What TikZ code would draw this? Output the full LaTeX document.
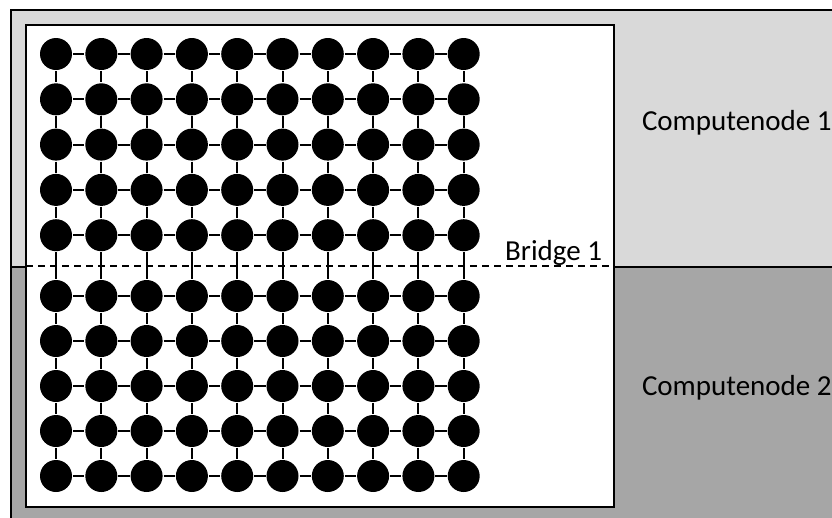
\documentclass[tikz,border=0pt]{standalone}
\usepackage{fontspec}
\setmainfont{Carlito}
\usepackage{tikz}
\usetikzlibrary{calc}

\begin{document}
\begin{tikzpicture}[x=1pt,y=-1pt,inner sep=0pt,line width=2pt,
	vertex/.style={circle,fill=black,minimum size=32},
	label/.style={font=\fontsize{29}{35}\selectfont}]
	
	\useasboundingbox (0,0) rectangle (832,517);
	
	% the two compute nodes
	\fill[gray!30] (11,10) rectangle (840,267);
	\fill[black!35] (11,267) rectangle (840,525);
	\draw (840,10) -- (11,10) -- (11,525);
	\draw (11,267) -- (840,267);
	
	\node at (26,25) (tl) {};
	\node at (614,507) (br) {};
	\draw[fill=white] (tl.center) rectangle (br.center);
	
	\foreach \r [evaluate=\r as \y using {\r<6 ? 54+(\r-1)*45.3 : 296+(\r-6)*45}] in {1,...,10}{
		\foreach \c [evaluate=\c as \x using {56+(\c-1)*45.3}] in {1,...,10}{
			\node at (\x,\y) [vertex] (n\r-\c) {};
		}
	}
	
	\foreach \r in {1,...,10}{
		\foreach \c [count=\d from 2] in {1,...,9}{
			\path (n\r-\c) edge (n\r-\d);
		}
	}
	\foreach \c in {1,...,10}{
		\foreach \r [count=\s from 2] in {1,...,9}{
			\path (n\r-\c) edge (n\s-\c);
		}
	}
	
	\coordinate (b1) at (26,266);
	\coordinate (b2) at (614,266);
	\draw[dash pattern=on 7pt off 5pt] (b1) -- (b2);
	
	\node[label,anchor=base east] at (603,260) (bridge) {Bridge 1};
	\node[label,anchor=west] at (641,123) (cn1) {Computenode 1};
	\node[label,anchor=west] at (641,388) (cn2) {Computenode 2};
	
\end{tikzpicture}
\end{document}
